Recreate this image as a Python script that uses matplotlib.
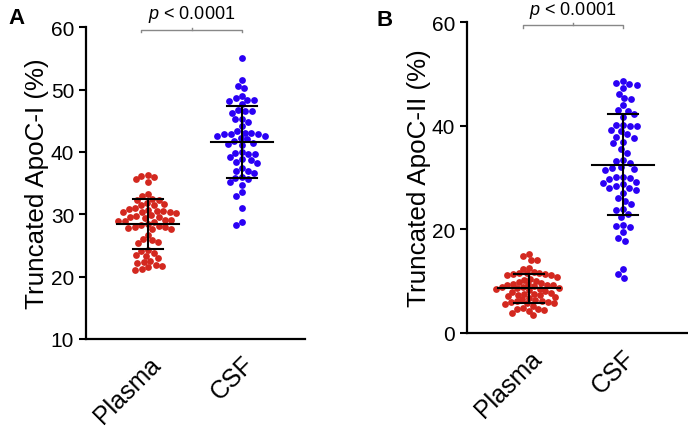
import matplotlib.pyplot as plt
import numpy as np

plt.rcParams['font.family'] = ['Liberation Sans', 'DejaVu Sans']
plt.rcParams['mathtext.fontset'] = 'custom'
plt.rcParams['mathtext.it'] = 'Liberation Sans:italic'
plt.rcParams['mathtext.rm'] = 'Liberation Sans'

# data
groups = ['Plasma', 'CSF']

apoc1_plasma = [36.3, 36.2, 35.9, 35.6, 35.2, 33.3, 32.9, 32.5, 32.3, 32.2,
                31.8, 31.6, 31.5, 31.4, 31.0, 30.9, 30.7, 30.5, 30.5, 30.4,
                30.4, 30.3, 30.2, 29.8, 29.7, 29.6, 29.5, 29.4, 29.0, 29.0,
                28.9, 28.9, 28.8, 28.4, 28.2, 28.1, 28.0, 27.9, 27.8, 27.7,
                27.6, 26.7, 26.1, 25.9, 25.5, 25.4, 24.3, 24.1, 23.8, 23.5,
                23.3, 23.0, 22.5, 22.3, 22.2, 21.9, 21.7, 21.5, 21.2, 21.1]
apoc1_csf = [55.0, 51.5, 50.6, 50.2, 49.0, 48.6, 48.3, 48.3, 48.2, 47.6,
             46.7, 46.5, 46.5, 46.2, 45.3, 45.2, 44.8, 44.1, 43.4, 43.1,
             43.0, 42.9, 42.8, 42.8, 42.6, 42.5, 42.2, 42.0, 41.8, 41.5,
             41.3, 41.1, 40.0, 39.8, 39.7, 39.6, 39.1, 38.9, 38.7, 38.4,
             38.2, 37.4, 37.0, 36.9, 36.6, 36.0, 35.8, 35.6, 35.1, 34.7,
             33.5, 33.0, 31.0, 28.8, 28.2]

apoc2_plasma = [15.2, 14.9, 14.1, 14.0, 12.6, 12.4, 11.8, 11.6, 11.6, 11.5,
                11.4, 11.3, 11.2, 11.1, 10.8, 10.5, 10.3, 10.1, 9.8, 9.6,
                9.5, 9.4, 9.3, 9.2, 9.2, 9.0, 8.9, 8.8, 8.7, 8.6,
                8.5, 8.4, 8.2, 8.0, 7.9, 7.8, 7.6, 7.5, 7.4, 7.3,
                7.2, 7.0, 6.8, 6.5, 6.3, 6.2, 6.1, 6.0, 5.9, 5.8,
                5.7, 5.5, 5.2, 4.9, 4.7, 4.6, 4.5, 4.3, 3.9, 3.5]
apoc2_csf = [48.7, 48.3, 48.0, 47.8, 47.3, 46.2, 45.3, 45.1, 43.9, 43.0,
             42.8, 42.2, 41.6, 40.2, 40.1, 40.0, 39.9, 39.1, 38.9, 38.3,
             37.9, 37.7, 36.8, 36.6, 35.5, 34.8, 33.3, 33.1, 32.8, 32.0,
             31.9, 31.7, 31.5, 30.1, 30.0, 29.9, 29.8, 29.1, 28.9, 28.7,
             28.4, 28.0, 27.9, 27.6, 27.1, 26.1, 25.5, 24.9, 24.0, 23.8,
             22.9, 22.3, 20.8, 20.7, 20.5, 19.4, 18.4, 17.8, 12.4, 11.4, 10.6]

colors = ['#d3281f', '#2a00f5']


def swarm(ax, xc, vals, color, d=6.2):
    # simple beeswarm in pixel space
    vals = np.asarray(vals, dtype=float)
    order = np.argsort(-vals)
    x0 = ax.transData.transform((xc, 0))[0]
    ypix = ax.transData.transform(np.column_stack([np.full(len(vals), xc), vals]))[:, 1]
    placed = []
    xs = np.zeros(len(vals))
    for i in order:
        y = ypix[i]
        cands = [0.0]
        for (px, py) in placed:
            dy = y - py
            if abs(dy) < d:
                dx = np.sqrt(d * d - dy * dy)
                cands += [px + dx + 0.01, px - dx - 0.01]
        cands.sort(key=lambda c: (abs(c), c))
        for c in cands:
            if all((c - px) ** 2 + (y - py) ** 2 >= d * d - 0.1 for px, py in placed):
                break
        placed.append((c, y))
        xs[i] = c
    pts = np.column_stack([x0 + xs, ypix])
    data = ax.transData.inverted().transform(pts)
    ax.scatter(data[:, 0], vals, s=24, color=color, linewidths=0, zorder=2, clip_on=False)


def panel(ax, series, ylim, yticks, ylabel, brk_y, txt_y, xlim, dots):
    ax.set_xlim(*xlim)
    ax.set_ylim(*ylim)
    ax.set_yticks(yticks)
    for i, vals in enumerate(series):
        swarm(ax, i, vals, colors[i], d=dots[i])
        m = np.mean(vals)
        sd = np.std(vals, ddof=1)
        ax.plot([i - 0.33, i + 0.33], [m, m], color='black', lw=1.5, zorder=3)
        ax.plot([i - 0.16, i + 0.16], [m + sd, m + sd], color='black', lw=1.5, zorder=3)
        ax.plot([i - 0.16, i + 0.16], [m - sd, m - sd], color='black', lw=1.5, zorder=3)
        ax.plot([i, i], [m - sd, m + sd], color='black', lw=1.5, zorder=3)

    # significance bracket
    span = ylim[1] - ylim[0]
    h = span * 0.009
    ax.plot([-0.07, -0.07, 1.0, 1.0], [brk_y - h, brk_y, brk_y, brk_y - h],
            color='#888888', lw=1.0, clip_on=False)
    ax.plot([0.465, 0.465], [brk_y, brk_y + h * 0.6], color='#888888', lw=1.0, clip_on=False)
    ax.text(0.465, txt_y, '$\\it{p}$ < 0.0001', ha='center', va='center', fontsize=13)

    ax.set_xticks([0, 1])
    ax.set_xticklabels(groups, rotation=45, ha='right', rotation_mode='anchor', fontsize=18)
    ax.tick_params(axis='x', length=0, pad=9)
    ax.tick_params(axis='y', labelsize=15, width=1.5, length=5)
    ax.set_ylabel(ylabel, fontsize=18.7, labelpad=1)
    for s in ['top', 'right']:
        ax.spines[s].set_visible(False)
    for s in ['left', 'bottom']:
        ax.spines[s].set_linewidth(1.6)


fig = plt.figure(figsize=(6.88, 4.27), dpi=100)
axA = fig.add_axes([0.125, 0.204, 0.318, 0.730])
axB = fig.add_axes([0.679, 0.218, 0.321, 0.728])

panel(axA, [apoc1_plasma, apoc1_csf], (10, 60), [10, 20, 30, 40, 50, 60],
      'Truncated ApoC-I (%)', 59.6, 62.2, (-0.66, 1.67), (6.6, 6.8))
panel(axB, [apoc2_plasma, apoc2_csf], (0, 60), [0, 20, 40, 60],
      'Truncated ApoC-II (%)', 59.4, 62.5, (-0.66, 1.69), (6.0, 7.2))

fig.text(8 / 688, 1 - 19 / 427, 'A', fontsize=16, fontweight='bold', ha='left', va='center')
fig.text(377 / 688, 1 - 20 / 427, 'B', fontsize=16, fontweight='bold', ha='left', va='center')

fig.savefig('out.png', dpi=100)
